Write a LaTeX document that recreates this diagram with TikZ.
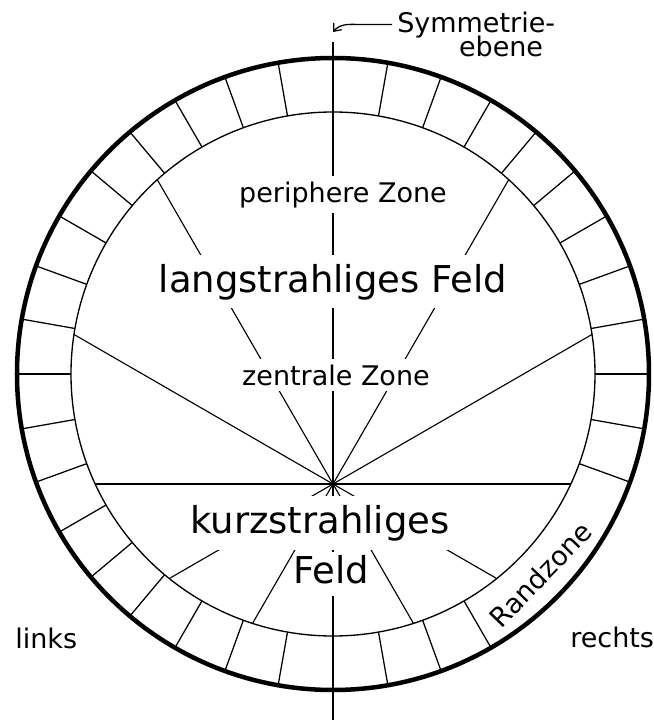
\documentclass[tikz,border=0pt]{standalone}
\usepackage{fontspec}
\setmainfont{DejaVu Sans}
\usetikzlibrary{arrows.meta,calc}

\begin{document}
\begin{tikzpicture}[
  rim/.style={draw=black, line width=3.2pt},
  ring/.style={draw=black, line width=0.95pt},
  tick/.style={draw=black, line width=0.9pt},
  ray/.style={draw=black, line width=0.8pt},
  axis/.style={draw=black, line width=1.4pt},
  pointer/.style={-{Straight Barb[length=1.6mm,width=2.6mm]}, line width=0.9pt},
  lbl/.style={font=\fontsize{19.2}{22}\selectfont, inner sep=0pt},
  cut/.style={font=\fontsize{19.2}{22}\selectfont, fill=white, inner xsep=4pt, inner ysep=4pt},
  bigcut/.style={cut, font=\fontsize{26.3}{30}\selectfont, inner ysep=6pt}
]
\useasboundingbox (-8.325,-8.65) rectangle (8.0,9.35);

% Kreise
\coordinate (mid) at (0,0);
\coordinate (pole) at (0,-2.75);
\draw[ring] (mid) circle (6.55);
\draw[rim] (mid) circle (7.9);

% Randzone
\foreach \a in {0,10,...,300,340,350}
  \draw[tick] (\a:6.55) -- (\a:7.9);

% Symmetrieebene
\coordinate (axistop) at (0,8.3);
\coordinate (axisbot) at (0,-8.65);
\draw[axis] (axistop) -- (axisbot);

\node[bigcut, anchor=base, inner xsep=0pt, inner ysep=2pt, text depth=0.25cm] (feldb) at (-0.05,-5.225) {Feld};

% Strahlen
\begin{scope}
  \clip (mid) circle (6.55);
  \foreach \a in {0,30,60,120,150,180,210,240,300,330}
    \draw[ray] (pole) -- ++(\a:10);
\end{scope}

% Felder und Zonen
\node[cut, anchor=base] (peri) at (0.25,4.3) {periphere Zone};
\node[bigcut, anchor=base] (lang) at (0,2.05) {langstrahliges Feld};
\node[cut, anchor=base] (zent) at (0.075,-0.275) {zentrale Zone};
\node[bigcut, anchor=base, inner ysep=6.5pt] (kurz) at (-0.325,-3.975) {kurzstrahliges};
\node[lbl, rotate=46] (rand) at (-44:7.22) {Randzone};

% Seiten
\node[lbl, anchor=base west] (links) at (-7.95,-6.85) {links};
\node[lbl, anchor=base west] (rechts) at (5.925,-6.825) {rechts};

% Beschriftung der Achse
\node[lbl, anchor=base west] (sym) at (1.6,8.55) {Symmetrie-};
\node[lbl, anchor=base east] (symb) at ([xshift=-0.3cm,yshift=-0.6cm]sym.base east) {ebene};
\coordinate (symtip) at (0,8.55);
\draw[pointer] ([xshift=-0.12cm]sym.west) -- ++(-0.72,0) to[out=180,in=50] (symtip);

\end{tikzpicture}
\end{document}
